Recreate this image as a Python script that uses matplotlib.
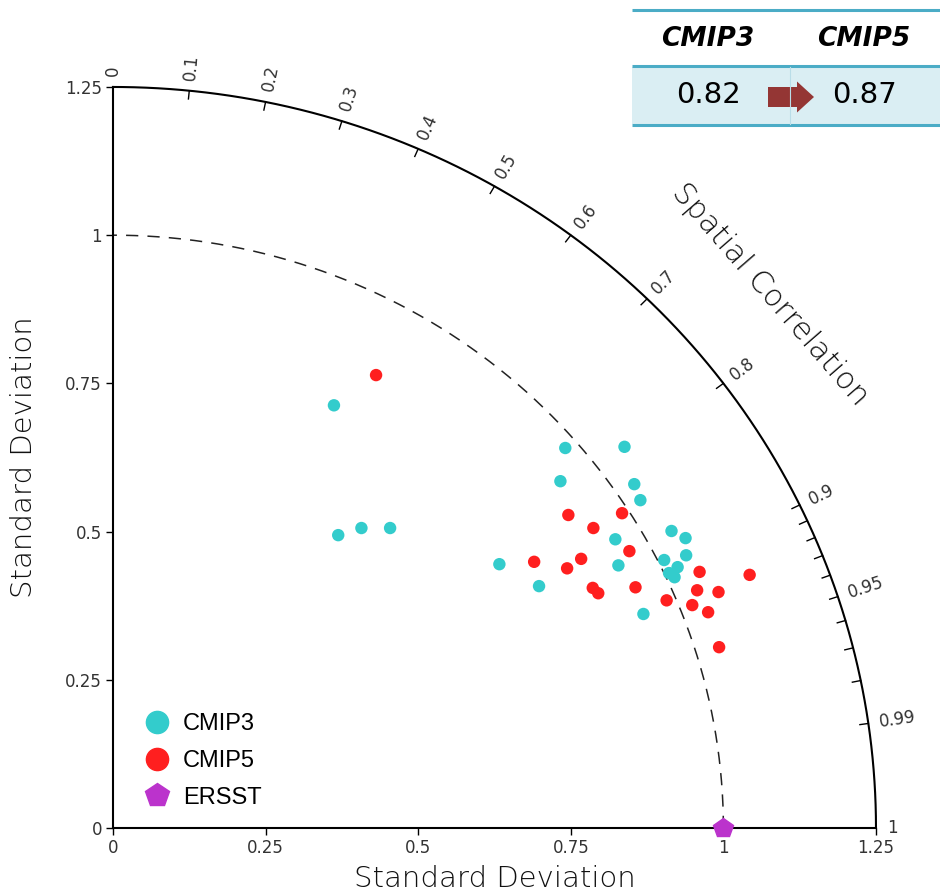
import matplotlib.pyplot as plt
import numpy as np
from matplotlib.lines import Line2D
from matplotlib.patches import Rectangle, FancyArrow

cmip3_x = [0.362, 0.369, 0.407, 0.454, 0.633, 0.698, 0.741, 0.838, 0.733, 0.854, 0.864,
           0.823, 0.828, 0.915, 0.938, 0.939, 0.903, 0.925, 0.911, 0.920, 0.869]
cmip3_y = [0.713, 0.494, 0.506, 0.506, 0.445, 0.408, 0.641, 0.643, 0.585, 0.580, 0.553,
           0.487, 0.443, 0.501, 0.489, 0.460, 0.452, 0.440, 0.430, 0.423, 0.361]
cmip5_x = [0.431, 0.690, 0.746, 0.834, 0.787, 0.846, 0.767, 0.744, 0.786, 0.795,
           0.856, 0.907, 0.961, 1.043, 0.957, 0.949, 0.992, 0.975, 0.993]
cmip5_y = [0.764, 0.449, 0.528, 0.531, 0.506, 0.467, 0.454, 0.438, 0.405, 0.396,
           0.406, 0.384, 0.432, 0.427, 0.401, 0.376, 0.398, 0.364, 0.305]
ref_std = 1.0

std_ticks = [0, 0.25, 0.5, 0.75, 1, 1.25]
std_labels = ['0', '0.25', '0.5', '0.75', '1', '1.25']
std_max = 1.25

corr_labeled = [0, 0.1, 0.2, 0.3, 0.4, 0.5, 0.6, 0.7, 0.8, 0.9, 0.95, 0.99, 1]
corr_minor = [0.91, 0.92, 0.93, 0.94, 0.96, 0.97, 0.98]

table_cols = ['CMIP3', 'CMIP5']
table_vals = ['0.82', '0.87']

c3_color = '#33CCCC'
c5_color = '#FF1F1F'
ref_color = '#BB33CC'
txt = '#333333'
lab_color = '#111111'

fig = plt.figure(figsize=(9.4, 8.93), dpi=100)
ax = fig.add_axes([0.1202, 0.0728, 0.8117, 0.8298])
ax.set_xlim(0, std_max)
ax.set_ylim(0, std_max)
for s in ['top', 'right']:
    ax.spines[s].set_visible(False)
for s in ['left', 'bottom']:
    ax.spines[s].set_linewidth(1.5)
ax.set_xticks(std_ticks, std_labels)
ax.set_yticks(std_ticks, std_labels)
ax.tick_params(direction='out', length=5, width=1, labelsize=12, labelcolor=txt, pad=3)

ax.set_xlabel('Standard Deviation', fontsize=21, color=lab_color, weight='light')
ax.set_ylabel('Standard Deviation', fontsize=21, color=lab_color, weight='light')
ax.xaxis.set_label_coords(0.5, -0.05)
ax.yaxis.set_label_coords(-0.098, 0.5)

# outer arc and reference (std = 1) arc
th = np.linspace(0, np.pi / 2, 400)
ax.plot(std_max * np.cos(th), std_max * np.sin(th), color='k', lw=1.5, clip_on=False)
ax.plot(ref_std * np.cos(th), ref_std * np.sin(th), color='#222222', lw=1.1,
        ls=(0, (8, 6)))

# correlation ticks + labels
for c in corr_labeled + corr_minor:
    a = np.arccos(c)
    if 0 < c < 1:
        ax.plot([std_max * np.cos(a), (std_max - 0.014) * np.cos(a)],
                [std_max * np.sin(a), (std_max - 0.014) * np.sin(a)],
                color='k', lw=1, clip_on=False)
for c in corr_labeled:
    a = np.arccos(c)
    lab = '%g' % c
    ax.text(1.268 * np.cos(a), 1.268 * np.sin(a), lab, rotation=np.degrees(a),
            rotation_mode='anchor', ha='left', va='center', fontsize=12, color=txt)
ax.text(1.076, 0.90, 'Spatial Correlation', rotation=-49, ha='center', va='center',
        fontsize=22, color=lab_color, weight='light')

ax.scatter(cmip3_x, cmip3_y, s=80, color=c3_color, edgecolors='none', zorder=3, clip_on=False)
ax.scatter(cmip5_x, cmip5_y, s=80, color=c5_color, edgecolors='none', zorder=3, clip_on=False)
ax.plot([ref_std], [0], marker='p', ms=15, color=ref_color, ls='none', zorder=4, clip_on=False)

handles = [Line2D([], [], marker='o', ms=16, color=c3_color, ls='none'),
           Line2D([], [], marker='o', ms=16, color=c5_color, ls='none'),
           Line2D([], [], marker='p', ms=18, color=ref_color, ls='none')]
ax.legend(handles, ['CMIP3', 'CMIP5', 'ERSST'], loc='lower left',
          bbox_to_anchor=(0.039, 0.026), frameon=False,
          prop={'family': 'Liberation Sans', 'size': 17},
          handlelength=1.2, handletextpad=0.5, labelspacing=0.62, borderpad=0,
          borderaxespad=0)

# summary table in the top-right corner (pixel coords)
ov = fig.add_axes([0, 0, 1, 1], zorder=5)
ov.set_xlim(0, 940)
ov.set_ylim(893, 0)
ov.axis('off')
ov.add_patch(Rectangle((632, 67), 310, 57, fc='#DAEEF3', ec='none'))
for yy in [10, 66, 125]:
    ov.plot([632, 940], [yy, yy], color='#4BACC6', lw=2.2, solid_capstyle='butt')
ov.plot([790, 790], [67, 124], color='#B9DDE8', lw=0.8)
col_x = [708, 864]
for cx, name, val in zip(col_x, table_cols, table_vals):
    ov.text(cx, 39, name, ha='center', va='center', fontsize=19, weight='bold',
            style='italic', color='k')
    ov.text(cx, 95, val, ha='center', va='center', fontsize=21, color='k')
ov.add_patch(FancyArrow(768, 97, 46, 0, width=20, head_width=31, head_length=17,
                        length_includes_head=True, color='#943634', lw=0))

fig.savefig('out.png', dpi=100)
